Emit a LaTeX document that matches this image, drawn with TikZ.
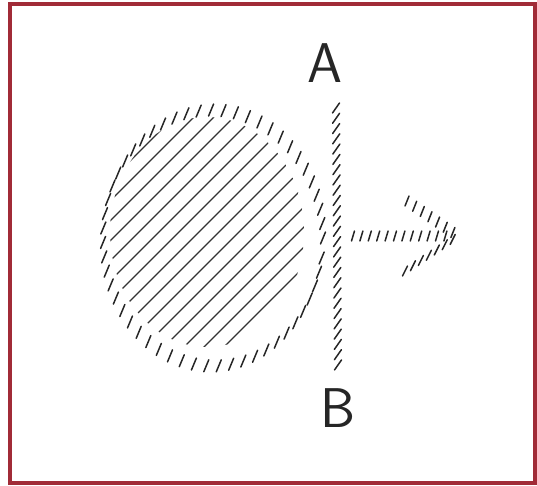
\documentclass[tikz,border=0pt]{standalone}
\usepackage{xcolor}
\usepackage{tikz}
\usetikzlibrary{positioning, calc}

\definecolor{framered}{HTML}{A12B37}

\begin{document}
\begin{tikzpicture}[
          x=1pt, y=1pt,
          tick/.style={line width=1.5pt, line cap=round, black!85},
          hatch/.style={line width=1.2pt, line cap=round, black!80},
          letter/.style={font=\sffamily\fontsize{56}{56}\selectfont, inner sep=0pt, black!85}
        ]
          \useasboundingbox (0,0) rectangle (537,485);
          \draw[framered, line width=4pt] (9.5,480.5) rectangle (535,2.5);
          \node[letter] (A) at (325,422) {A};
          \node[letter] (B) at (338,77) {B};
          \coordinate (c) at (213,247);
          \coordinate (ab1) at (336,377);
          \coordinate (ab2) at (338,120);
          \coordinate (s) at (353,249);
          \coordinate (tip) at (458,249);
          \coordinate (h1) at (407,284);
          \coordinate (h2) at (405,214);
          \begin{scope}
            \clip (207,253) ellipse [x radius=97, y radius=115];
            \foreach \k in {-10,...,10}
              \draw[hatch] ($(c)+(\k*20,0)+(-200,-200)$) -- ++(400,400);
          \end{scope}
          \foreach \a in {0,6.5,...,354}
            \draw[tick] ($(c)+({110*cos(\a)},{128*sin(\a)})+(-2.5,-6)$) -- ++(5,12);
          \foreach \t in {0,0.04,...,1.01}
            \draw[tick] ($(ab1)!\t!(ab2)+(-3.5,-5)$) -- ++(7,10);
          \foreach \t in {0,0.08,...,0.9}
            \draw[tick] ($(s)!\t!(tip)+(-1.5,-5)$) -- ++(3,10);
          \foreach \t in {0,0.15,...,0.9}
            \draw[tick] ($(h1)!\t!(tip)+(-2,-5)$) -- ++(4,10);
          \foreach \t in {0,0.15,...,0.9}
            \draw[tick] ($(h2)!\t!(tip)+(-2.5,-5)$) -- ++(5,10);
        \end{tikzpicture}
\end{document}
